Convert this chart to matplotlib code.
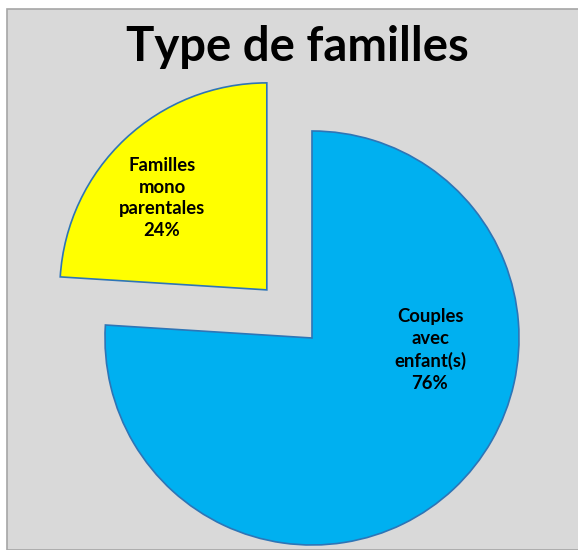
import matplotlib.pyplot as plt
from matplotlib.patches import Rectangle

# family types, share of households
categories = ["Couples\navec\nenfant(s)", "Familles\nmono\nparentales"]
shares = [76, 24]
colors = ["#00b0f0", "#ffff00"]
explode = [0, 66]

fig = plt.figure(figsize=(5.78, 5.5), dpi=100)
fig.patch.set_facecolor("white")
fig.patches.append(Rectangle((7 / 578, 0), 1, 1 - 9 / 550, transform=fig.transFigure,
                             facecolor="#d9d9d9", edgecolor="#a6a6a6", linewidth=1.2,
                             zorder=-5))

ax = fig.add_axes([0, 0, 1, 1])
ax.set_zorder(1)
ax.patch.set_visible(False)
ax.axis("off")

wedges, _ = ax.pie(shares, colors=colors, explode=explode, startangle=90,
                   counterclock=False, center=(312, 212), radius=207,
                   wedgeprops=dict(edgecolor="#2e75b6", linewidth=1.2))
ax.set_xlim(0, 578)
ax.set_ylim(0, 550)
ax.set_aspect("equal")

label_pos = [(430, 200), (162, 352)]
for name, share, (x, y) in zip(categories, shares, label_pos):
    ax.text(x, y, f"{name}\n{share}%", ha="center", va="center",
            fontsize=13.3, fontweight="bold", family="Lato", linespacing=1.33)

fig.text(0.5 + 8 / 578, 1 - 47 / 550, "Type de familles", ha="center", va="center",
         fontsize=34, fontweight="bold", family="Lato")

fig.savefig("out.png", dpi=100)
